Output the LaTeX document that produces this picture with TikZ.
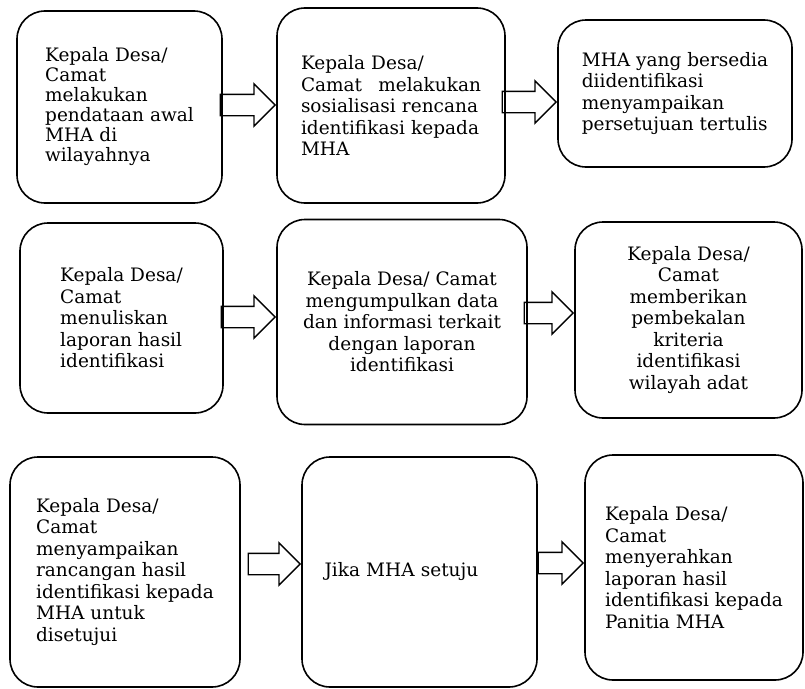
\documentclass[tikz,border=0pt]{standalone}
\usepackage{fontspec}
\setmainfont{DejaVu Serif}
\usetikzlibrary{shapes.arrows}

\begin{document}
\begin{tikzpicture}[x=1pt, y=-1pt,
                    box/.style={draw, line width=1.6pt, rounded corners=28pt, align=left,
                                inner sep=0, font=\fontsize{18.5}{21.5}\selectfont},
                    flow/.style={draw, line width=1.4pt, single arrow, single arrow tip angle=90,
                                 single arrow head extend=10.5pt, inner xsep=0, inner ysep=10pt,
                                 anchor=tip}]
    \useasboundingbox (0,0) rectangle (805,688);

    % baris pertama
    \node[box, minimum width=205pt, minimum height=192pt,
          font=\fontsize{18.5}{20}\selectfont] (awal) at (119.5,107)
        {Kepala Desa/\\Camat\\melakukan\\pendataan awal\\MHA di\\wilayahnya};
    \node[box, minimum width=228pt, minimum height=195pt, text width=180pt] (sosialisasi) at (391,105.5)
        {Kepala Desa/\\Camat\hfill melakukan\\sosialisasi rencana\\identifikasi kepada\\MHA};
    \node[box, minimum width=234pt, minimum height=147pt] (bersedia) at (675,93.5)
        {MHA yang bersedia\\diidentifikasi\\menyampaikan\\persetujuan tertulis};

    % baris kedua
    \node[box, minimum width=203pt, minimum height=190pt] (tulis) at (121.5,318)
        {Kepala Desa/\\Camat\\menuliskan\\laporan hasil\\identifikasi};
    \node[box, minimum width=250pt, minimum height=205pt, align=center] (kumpul) at (402,322)
        {Kepala Desa/ Camat\\mengumpulkan data\\dan informasi terkait\\dengan laporan\\identifikasi};
    \node[box, minimum width=227pt, minimum height=196pt, align=center] (bekal) at (688.5,320)
        {Kepala Desa/\\Camat\\memberikan\\pembekalan\\kriteria\\identifikasi\\wilayah adat};

    % baris ketiga
    \node[box, minimum width=230pt, minimum height=230pt] (rancang) at (125,572)
        {Kepala Desa/\\Camat\\menyampaikan\\rancangan hasil\\identifikasi kepada\\MHA untuk\\disetujui};
    \node[box, minimum width=235pt, minimum height=230pt, text width=190pt] (jika) at (419.5,572)
        {Jika MHA setuju};
    \node[box, minimum width=218pt, minimum height=225pt] (serah) at (694,567.5)
        {Kepala Desa/\\Camat\\menyerahkan\\laporan hasil\\identifikasi kepada\\Panitia MHA};

    % panah
    \node[flow, minimum height=55pt] (awal-sos) at (sosialisasi.west |- 0,105) {};
    \node[flow, minimum height=54pt] (sos-bersedia) at (bersedia.west |- 0,102) {};
    \node[flow, minimum height=54pt] (tulis-kumpul) at (kumpul.west |- 0,317) {};
    \node[flow, minimum height=49pt] (kumpul-bekal) at (bekal.west |- 0,313) {};
    \node[flow, minimum height=52pt] (rancang-jika) at (jika.west |- 0,564) {};
    \node[flow, minimum height=45pt] (jika-serah) at (serah.west |- 0,563) {};
\end{tikzpicture}
\end{document}
